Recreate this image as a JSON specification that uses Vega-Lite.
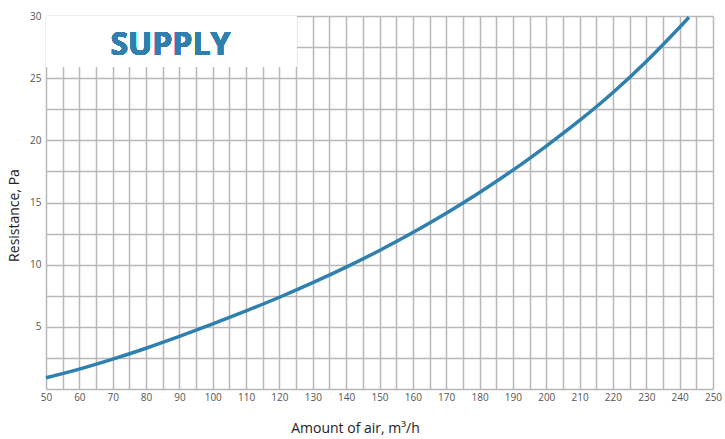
{
  "$schema": "https://vega.github.io/schema/vega-lite/v6.json",
  "width": 667,
  "height": 373,
  "autosize": "none",
  "padding": {"left": 46, "top": 16, "right": 12, "bottom": 50},
  "background": "white",
  "config": {
    "view": {"stroke": null},
    "font": "Open Sans",
    "axis": {
      "gridColor": "#b8b8b8",
      "gridWidth": 1.5,
      "gridOpacity": 1,
      "domain": false,
      "ticks": false,
      "labelFont": "Open Sans",
      "labelFontSize": 10,
      "labelColor": "#555555",
      "titleFont": "Open Sans",
      "titleFontSize": 14,
      "titleFontWeight": "normal",
      "titleColor": "#222222"
    }
  },
  "data": {
    "values": [
      {"air": 50, "resistance": 0.9},
      {"air": 60, "resistance": 1.6},
      {"air": 70, "resistance": 2.4},
      {"air": 80, "resistance": 3.28},
      {"air": 90, "resistance": 4.23},
      {"air": 100, "resistance": 5.23},
      {"air": 110, "resistance": 6.28},
      {"air": 120, "resistance": 7.38},
      {"air": 130, "resistance": 8.55},
      {"air": 140, "resistance": 9.8},
      {"air": 150, "resistance": 11.14},
      {"air": 160, "resistance": 12.58},
      {"air": 170, "resistance": 14.13},
      {"air": 180, "resistance": 15.8},
      {"air": 190, "resistance": 17.6},
      {"air": 200, "resistance": 19.54},
      {"air": 210, "resistance": 21.6},
      {"air": 220, "resistance": 23.85},
      {"air": 230, "resistance": 26.35},
      {"air": 240, "resistance": 29.1},
      {"air": 242.8, "resistance": 29.9}
    ]
  },
  "layer": [
    {
      "mark": {"type": "line", "color": "#2f80ae", "strokeWidth": 3.5, "interpolate": "monotone"},
      "encoding": {
        "x": {
          "field": "air", "type": "quantitative",
          "scale": {"domain": [50, 250], "nice": false, "zero": false},
          "axis": {
            "values": [50,55,60,65,70,75,80,85,90,95,100,105,110,115,120,125,130,135,140,145,150,155,160,165,170,175,180,185,190,195,200,205,210,215,220,225,230,235,240,245,250],
            "labelExpr": "datum.value % 10 == 0 ? datum.label : ''",
            "labelPadding": 3,
            "labelFlush": false,
            "labelOverlap": false,
            "title": "Amount of air, m³/h",
            "titleX": 309,
            "titleY": 39,
            "titleBaseline": "middle"
          }
        },
        "y": {
          "field": "resistance", "type": "quantitative",
          "scale": {"domain": [0, 30], "nice": false},
          "axis": {
            "values": [0,2.5,5,7.5,10,12.5,15,17.5,20,22.5,25,27.5,30],
            "labelExpr": "datum.value % 5 == 0 && datum.value > 0 ? datum.label : ''",
            "labelPadding": 5,
            "labelFlush": false,
            "labelOverlap": false,
            "title": "Resistance, Pa",
            "titleX": -32,
            "titleY": 199,
            "titleBaseline": "middle"
          }
        }
      }
    },
    {
      "mark": {"type": "rect", "fill": "white"},
      "encoding": {
        "x": {
          "datum": 50, "type": "quantitative",
          "axis": {
            "values": [50,55,60,65,70,75,80,85,90,95,100,105,110,115,120,125,130,135,140,145,150,155,160,165,170,175,180,185,190,195,200,205,210,215,220,225,230,235,240,245,250],
            "labelExpr": "datum.value % 10 == 0 ? datum.label : ''",
            "labelPadding": 3,
            "labelFlush": false,
            "labelOverlap": false,
            "title": "Amount of air, m³/h",
            "titleX": 309,
            "titleY": 39,
            "titleBaseline": "middle"
          }
        },
        "x2": {"datum": 125},
        "y": {
          "datum": 25.9, "type": "quantitative",
          "axis": {
            "values": [0,2.5,5,7.5,10,12.5,15,17.5,20,22.5,25,27.5,30],
            "labelExpr": "datum.value % 5 == 0 && datum.value > 0 ? datum.label : ''",
            "labelPadding": 5,
            "labelFlush": false,
            "labelOverlap": false,
            "title": "Resistance, Pa",
            "titleX": -32,
            "titleY": 199,
            "titleBaseline": "middle"
          }
        },
        "y2": {"datum": 30}
      }
    },
    {
      "mark": {"type": "text", "text": "SUPPLY", "font": "Open Sans", "fontSize": 32, "fontWeight": "bold", "color": "#2f80ae", "align": "center", "baseline": "middle"},
      "encoding": {
        "x": {
          "datum": 87.3, "type": "quantitative",
          "axis": {
            "values": [50,55,60,65,70,75,80,85,90,95,100,105,110,115,120,125,130,135,140,145,150,155,160,165,170,175,180,185,190,195,200,205,210,215,220,225,230,235,240,245,250],
            "labelExpr": "datum.value % 10 == 0 ? datum.label : ''",
            "labelPadding": 3,
            "labelFlush": false,
            "labelOverlap": false,
            "title": "Amount of air, m³/h",
            "titleX": 309,
            "titleY": 39,
            "titleBaseline": "middle"
          }
        },
        "y": {
          "datum": 27.7, "type": "quantitative",
          "axis": {
            "values": [0,2.5,5,7.5,10,12.5,15,17.5,20,22.5,25,27.5,30],
            "labelExpr": "datum.value % 5 == 0 && datum.value > 0 ? datum.label : ''",
            "labelPadding": 5,
            "labelFlush": false,
            "labelOverlap": false,
            "title": "Resistance, Pa",
            "titleX": -32,
            "titleY": 199,
            "titleBaseline": "middle"
          }
        }
      }
    }
  ]
}
